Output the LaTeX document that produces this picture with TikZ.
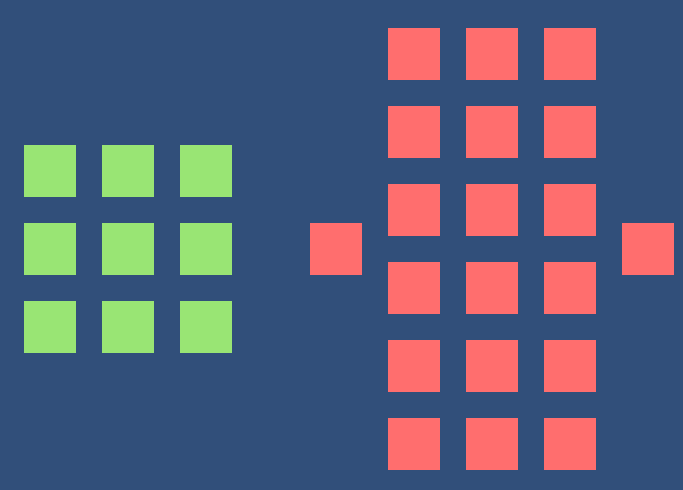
\documentclass[tikz,border=0pt]{standalone}
\definecolor{bgblue}{HTML}{314F7A}
\definecolor{sqgreen}{HTML}{99E574}
\definecolor{sqred}{HTML}{FF6E6E}
\tikzset{
  sq/.style={minimum width=52pt,minimum height=52pt,inner sep=0pt,outer sep=0pt,draw=none,anchor=north west},
  greensq/.style={sq,fill=sqgreen},
  redsq/.style={sq,fill=sqred}
}
\begin{document}
\begin{tikzpicture}[x=1pt,y=-1pt]
\fill[bgblue] (0,0) rectangle (683,490);
\useasboundingbox (0,0) rectangle (683,490);
\foreach \i in {0,1,2}{
  \foreach \j in {0,1,2}{
    \node[greensq] (g\i\j) at ({24+78*\i},{145+78*\j}) {};
  }
}
\node[redsq] (rl) at (310,223) {};
\foreach \i in {0,1,2}{
  \foreach \j in {0,...,5}{
    \node[redsq] (r\i\j) at ({388+78*\i},{28+78*\j}) {};
  }
}
\node[redsq] (rr) at (622,223) {};
\end{tikzpicture}
\end{document}
